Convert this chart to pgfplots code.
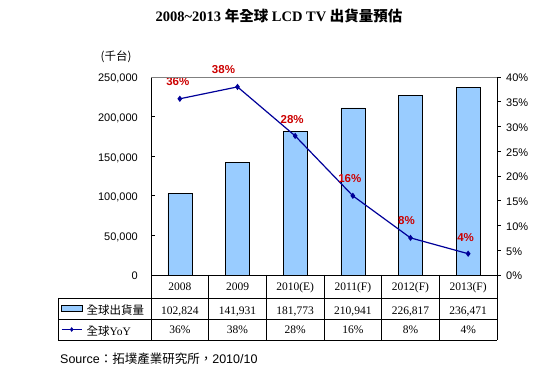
\documentclass[border=0pt]{standalone}
\usepackage{pgfplots}
\pgfplotsset{compat=1.18}
\usepackage{fontspec}
\setmainfont{Liberation Serif}
\newfontfamily\arial{Liberation Sans}
\newfontfamily\cjk{Noto Sans CJK TC}
\definecolor{barblue}{HTML}{99CCFF}
\definecolor{navyl}{HTML}{000099}
\definecolor{lblred}{HTML}{CC0000}
\begin{document}
\begin{tikzpicture}[x=1pt,y=1pt]
\path[use as bounding box] (0,0) rectangle (552,371);
% title
\node[anchor=base,inner sep=0pt] at (279,349.3) {\fontsize{14.5}{16}\selectfont\bfseries 2008\textasciitilde2013 {\cjk\bfseries 年全球} LCD TV {\cjk\bfseries 出貨量預估}};
\node[inner sep=0pt] at (116,314) {\fontsize{11.5}{13}\selectfont\cjk (千台)};

\begin{axis}[
  at={(151pt,96pt)}, anchor=south west, scale only axis,
  width=346pt, height=198pt,
  xmin=-0.5, xmax=5.5, ymin=0, ymax=250000,
  axis line style={draw=none},
  xtick={0,1,2,3,4,5},
  xticklabels={2008,2009,2010(E),2011(F),2012(F),2013(F)},
  major x tick style={draw=none},
  xticklabel style={anchor=base, inner sep=0pt, yshift=-15.7pt, font=\fontsize{11.5}{13}\selectfont},
  ytick={0,50000,100000,150000,200000,250000},
  scaled y ticks=false,
  ytick pos=left, tick align=inside, major tick length=4pt,
  y tick style={black, line width=0.6pt},
  yticklabel style={anchor=base east, inner sep=0pt, xshift=-13pt, yshift=-5pt,
     font=\arial\fontsize{11}{13}\selectfont,
     /pgf/number format/fixed, /pgf/number format/precision=0,
     /pgf/number format/1000 sep={,}, /pgf/number format/assume math mode=true},
  clip=false,
]
\addplot[ybar, bar width=24pt, fill=barblue, draw=black, line width=0.5pt]
  coordinates {(0,102824) (1,141931) (2,181773) (3,210941) (4,226817) (5,236471)};
\end{axis}

\begin{axis}[
  at={(151pt,96pt)}, anchor=south west, scale only axis,
  width=346pt, height=198pt,
  xmin=-0.5, xmax=5.5, ymin=0, ymax=40,
  axis line style={draw=none},
  xtick=\empty,
  ytick={0,5,10,15,20,25,30,35,40},
  ytick pos=right, yticklabel pos=right, tick align=outside, major tick length=4pt,
  y tick style={black, line width=0.6pt},
  yticklabel={\pgfmathprintnumber{\tick}\%},
  yticklabel style={anchor=base west, inner sep=0pt, xshift=5pt, yshift=-5pt,
     font=\arial\fontsize{11}{13}\selectfont, /pgf/number format/fixed, /pgf/number format/assume math mode=true},
  clip=false,
  legend style={at={(axis description cs:-0.2581,-0.1162)}, anchor=north west,
     draw=none, fill=none, inner sep=0pt, outer sep=0pt, row sep=0pt, column sep=4.4pt,
     font=\fontsize{11.5}{13}\selectfont,
     nodes={inner sep=0pt, text height=16pt, text depth=5pt}},
  legend cell align=left,
]
\addlegendimage{legend image code/.code={\path[draw=none,fill=none,use as bounding box] (0pt,0pt) rectangle (20.6pt,4pt);
   \draw[fill=barblue,draw=black,line width=0.5pt] (0pt,-2.3pt) rectangle (20.6pt,3.7pt);}}
\addlegendentry{\cjk 全球出貨量}
\addlegendimage{legend image code/.code={\path[draw=none,fill=none,use as bounding box] (0pt,0pt) rectangle (20.6pt,4pt);
   \draw[navyl,line width=1.2pt] (0pt,0pt) -- (20pt,0pt);
   \path[mark=diamond*, mark size=2pt, mark options={draw=navyl,fill=navyl}] plot coordinates {(10pt,0pt)};}}
\addlegendentry{{\cjk 全球}YoY}
\addplot[forget plot, navyl, line width=1.2pt, mark=diamond*, mark size=2.2pt, mark options={solid, fill=navyl},
  point meta=explicit symbolic,
  nodes near coords={\pgfplotspointmeta\%},
  visualization depends on={\thisrow{dx}\as\dx},
  visualization depends on={\thisrow{dy}\as\dy},
  every node near coord/.append style={inner sep=0pt, xshift=\dx pt, yshift=\dy pt, text=lblred,
     font=\arial\bfseries\fontsize{11.5}{13}\selectfont}]
  table[x=x, y=y, meta=lab] {
x y lab dx dy
0 35.6 36 -2 12.8
1 38.0 38 -14 12.3
2 28.1 28 -3 11.5
3 16.0 16 -3 12.5
4 7.5 8 -4 12.3
5 4.3 4 -2.5 11.8
};
\end{axis}

% frame
\draw[black, line width=0.6pt] (151,96) -- (151,294);
\draw[black, line width=0.6pt] (497,96) -- (497,294);
\draw[gray, line width=0.6pt] (151,294) -- (497,294);
% data table
\begin{scope}[line width=0.6pt]
\draw (151,96) -- (497,96);
\draw (58,73) -- (497,73);
\draw (58,51.5) -- (497,51.5);
\draw (58,31) -- (497,31);
\draw (58,73) -- (58,31);
\foreach \k in {0,...,6} {\draw (151+\k*57.6667,96) -- (151+\k*57.6667,31);}
\end{scope}
\foreach \v [count=\i from 0] in {102{,}824,141{,}931,181{,}773,210{,}941,226{,}817,236{,}471}
  {\node[anchor=base,inner sep=0pt,font=\fontsize{11.5}{13}\selectfont] at (151+\i*57.6667+28.8333,56.7) {\v};}
\foreach \v [count=\i from 0] in {36,38,28,16,8,4}
  {\node[anchor=base,inner sep=0pt,font=\fontsize{11.5}{13}\selectfont] at (151+\i*57.6667+28.8333,37) {\v\%};}
% source
\node[anchor=base west,inner sep=0pt] at (60,7.7) {\arial\fontsize{12.5}{14}\selectfont Source{\cjk ：拓墣產業研究所，}2010/10};
\end{tikzpicture}
\end{document}
